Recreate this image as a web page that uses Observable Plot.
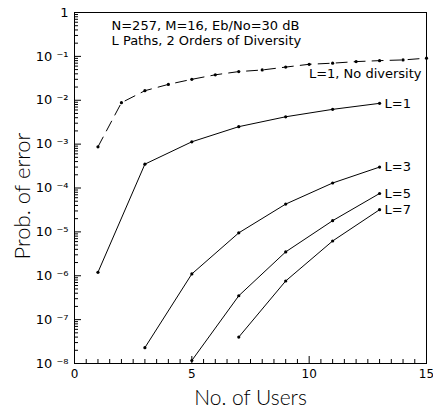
<!DOCTYPE html>
<html><head><meta charset="utf-8">
<script src="https://cdn.jsdelivr.net/npm/d3@7"></script>
<script src="https://cdn.jsdelivr.net/npm/@observablehq/plot@0.6"></script>
<style>body{margin:0;background:#fff}</style>
</head><body><div id="chart"></div>
<script>
// Data
const usersNoDiv = [1,2,3,4,5,6,7,8,9,10,11,12,13,14,15];
const probNoDiv  = [8.7e-4,8.8e-3,0.0165,0.023,0.030,0.038,0.045,0.049,0.057,0.066,0.070,0.076,0.080,0.083,0.091];
const usersL1 = [1,3,5,7,9,11,13];
const probL1  = [1.2e-6,3.5e-4,1.13e-3,2.5e-3,4.2e-3,6.2e-3,8.5e-3];
const usersL3 = [3,5,7,9,11,13];
const probL3  = [2.3e-8,1.1e-6,9.5e-6,4.3e-5,1.3e-4,3.0e-4];
const usersL5 = [5,7,9,11,13];
const probL5  = [1.17e-8,3.5e-7,3.5e-6,1.8e-5,7.5e-5];
const usersL7 = [7,9,11,13];
const probL7  = [4.0e-8,7.6e-7,6.2e-6,3.2e-5];
const seriesNames = ["L=1","L=3","L=5","L=7"];
const xTickLabels = [0,5,10,15];
const yMajor = [1e-8,1e-7,1e-6,1e-5,1e-4,1e-3,1e-2,1e-1,1];
const supers = {"-1":"⁻¹","-2":"⁻²","-3":"⁻³","-4":"⁻⁴","-5":"⁻⁵","-6":"⁻⁶","-7":"⁻⁷","-8":"⁻⁸"};
const titleLines = ["N=257, M=16, Eb/No=30 dB","L Paths, 2 Orders of Diversity"];
const noDivLabel = "L=1, No diversity";
const yLabel = "Prob. of error";
const xLabel = "No. of Users";

const zip = (xs, ys, name) => xs.map((x, i) => ({x, y: ys[i], name}));
const noDiv = zip(usersNoDiv, probNoDiv, "nodiv");
const diversity = [
  zip(usersL1, probL1, seriesNames[0]),
  zip(usersL3, probL3, seriesNames[1]),
  zip(usersL5, probL5, seriesNames[2]),
  zip(usersL7, probL7, seriesNames[3])
];
const divAll = diversity.flat();
const lastPts = diversity.map(s => s[s.length - 1]);

const yMinor = [];
yMajor.slice(0, -1).forEach(v => { for (let k = 2; k <= 9; k++) yMinor.push(v * k); });
const xHalf = d3.range(0, 15.01, 0.5).filter(v => !xTickLabels.includes(v));

const fmtY = d => {
  if (d === 1) return "1";
  const e = String(Math.round(Math.log10(d)));
  return "10 " + supers[e];
};

const lightFont = "Lato, 'DejaVu Sans', sans-serif";

const chart = Plot.plot({
  width: 433, height: 407,
  marginLeft: 74, marginRight: 7, marginTop: 12, marginBottom: 44,
  style: {fontFamily: "DejaVu Sans, sans-serif", background: "white", color: "black"},
  x: {domain: [0, 15]},
  y: {type: "log", domain: [1e-8, 1]},
  marks: [
    Plot.frame({stroke: "black", strokeWidth: 1}),
    Plot.axisX({ticks: xTickLabels, tickSize: 0, tickPadding: 6, fontSize: 12, label: null, tickFormat: d => String(d)}),
    Plot.axisY({ticks: yMajor, tickSize: 0, tickPadding: 6, fontSize: 13, label: null, tickFormat: fmtY}),
    Plot.tickX(xHalf, {x: d => d, insetTop: 347, stroke: "black"}),
    Plot.tickX(xTickLabels, {x: d => d, insetTop: 344, stroke: "black"}),
    Plot.tickY(yMinor, {y: d => d, insetRight: 348, stroke: "black"}),
    Plot.tickY(yMajor, {y: d => d, insetRight: 345, stroke: "black"}),
    Plot.line(noDiv, {x: "x", y: "y", stroke: "black", strokeWidth: 1, strokeDasharray: "11,7"}),
    Plot.dot(noDiv, {x: "x", y: "y", r: 1.6, fill: "black"}),
    Plot.line(divAll, {x: "x", y: "y", z: "name", stroke: "black", strokeWidth: 1}),
    Plot.dot(divAll, {x: "x", y: "y", r: 1.6, fill: "black"}),
    Plot.text(lastPts, {x: "x", y: "y", text: "name", dx: 5, textAnchor: "start", fontSize: 13}),
    Plot.text([noDivLabel], {text: d => d, frameAnchor: "top-right", dx: -5, dy: 56, textAnchor: "end", fontSize: 13}),
    Plot.text([titleLines.join("\n")], {text: d => d, frameAnchor: "top-left", lineAnchor: "top", lineHeight: 1.15, dx: 37, dy: 7, fontSize: 13, textAnchor: "start"}),
    Plot.text([yLabel], {text: d => d, frameAnchor: "left", textAnchor: "middle", rotate: -90, dx: -52, dy: 8, fontSize: 22, fontWeight: 300, fontFamily: lightFont, ariaLabel: "ylabel"}),
    Plot.text([xLabel], {text: d => d, frameAnchor: "bottom", textAnchor: "middle", lineAnchor: "bottom", dy: 41, fontSize: 21, fontWeight: 300, fontFamily: lightFont, ariaLabel: "xlabel"})
  ]
});
d3.select(chart).selectAll('g[aria-label="xlabel"] text').style("letter-spacing", "2.5px");
d3.select(chart).selectAll('g[aria-label="ylabel"] text').style("letter-spacing", "1.5px");
document.getElementById("chart").appendChild(chart);
</script>
</body></html>
